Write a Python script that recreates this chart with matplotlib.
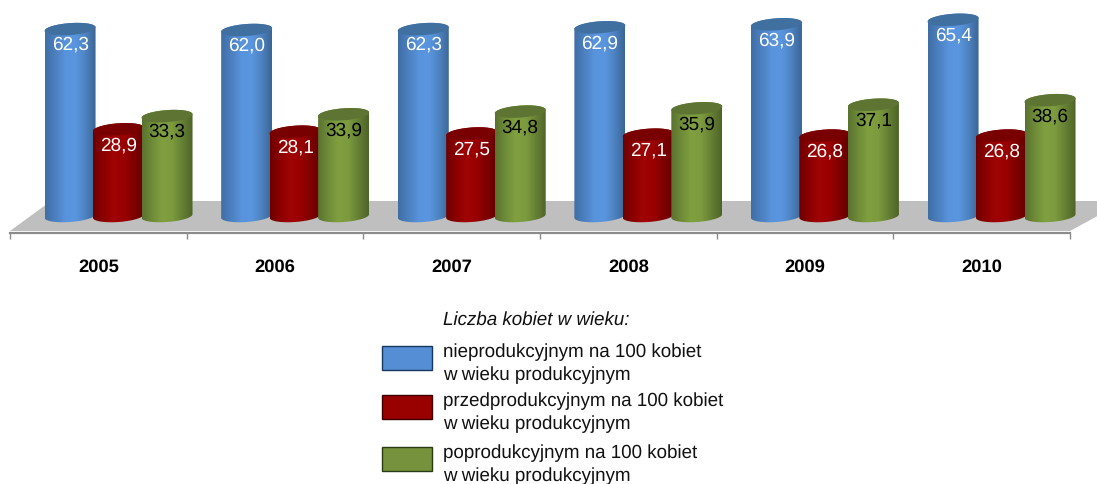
import numpy as np
import matplotlib
matplotlib.use("Agg")
import matplotlib.pyplot as plt
from matplotlib.colors import LinearSegmentedColormap
from matplotlib.patches import Polygon, Rectangle

plt.rcParams['font.family'] = ['Liberation Sans', 'DejaVu Sans']
plt.rcParams['text.hinting'] = 'none'

years = ['2005', '2006', '2007', '2008', '2009', '2010']
nieprod = [62.3, 62.0, 62.3, 62.9, 63.9, 65.4]
przedprod = [28.9, 28.1, 27.5, 27.1, 26.8, 26.8]
poprod = [33.3, 33.9, 34.8, 35.9, 37.1, 38.6]

W, H = 1097, 484
PX_PER_CAT = 176.6
PX_PER_VAL = 3.0
X0_PX = 98.5    # pixel of first category centre
Y0_PX = 216.0   # pixel of value 0

RX, RY, TILT = 25.5, 6.0, 0.07

fmt = lambda v: f"{v:.1f}".replace('.', ',')


def to_data(px, py):
    return (px - X0_PX) / PX_PER_CAT, (Y0_PX - py) / PX_PER_VAL


def cylinder(ax, xc, val, cols, top_col, z):
    t1 = np.linspace(np.pi, 2 * np.pi, 60)
    t2 = np.linspace(0, np.pi, 60)
    dx1, dx2 = RX * np.cos(t1), RX * np.cos(t2)
    low = np.c_[xc + dx1 / PX_PER_CAT, (RY * np.sin(t1) + TILT * dx1) / PX_PER_VAL]
    up = np.c_[xc + dx2 / PX_PER_CAT, val + (RY * np.sin(t2) + TILT * dx2) / PX_PER_VAL]
    body = Polygon(np.r_[low, up], fc='none', ec='none', zorder=z)
    ax.add_patch(body)
    cmap = LinearSegmentedColormap.from_list('c', cols)
    im = ax.imshow(np.linspace(0, 1, 128)[None, :], cmap=cmap, aspect='auto', zorder=z,
                   extent=[xc - RX / PX_PER_CAT, xc + RX / PX_PER_CAT, -3, val + 3],
                   interpolation='bilinear')
    im.set_clip_path(body)
    # top ellipse
    t = np.linspace(0, 2 * np.pi, 120)
    dx = RX * np.cos(t)
    cap = np.c_[xc + dx / PX_PER_CAT, val + (RY * np.sin(t) + TILT * dx) / PX_PER_VAL]
    ax.add_patch(Polygon(cap, fc=top_col, ec='none', zorder=z + 0.1))


fig = plt.figure(figsize=(W / 100, H / 100), dpi=100)
ax = fig.add_axes([0, 0, 1, 1])
ax.patch.set_visible(False)

# grey floor
floor = [to_data(10, 231), to_data(51, 201), to_data(1125, 201), to_data(1070, 231)]
ax.add_patch(Polygon(floor, fc='#bfbfbf', ec='none', zorder=1))

series = [
    (nieprod, -0.161, ['#3f6ea6', '#4c80bf', '#5893dc', '#5a96e0', '#4d82c0', '#3a6595'], '#40709f', 'white'),
    (przedprod, 0.113, ['#6e0000', '#8c0000', '#a00404', '#9a0000', '#7e0000', '#640000'], '#780000', 'white'),
    (poprod, 0.388, ['#5a722f', '#6f8c38', '#80a040', '#7c9a3e', '#647f33', '#4e6328'], '#5e7433', 'black'),
]

x = np.arange(len(years))
z = 2
for i in x:
    for vals, off, cols, top_col, tcol in series:
        cylinder(ax, i + off, vals[i], cols, top_col, z)
        ax.text(i + off, vals[i] - 16 / PX_PER_VAL, fmt(vals[i]), color=tcol, fontsize=13.7,
                ha='center', va='center', zorder=z + 0.2)
        z += 1

ax.set_xlim(-X0_PX / PX_PER_CAT, (W - X0_PX) / PX_PER_CAT)
ax.set_ylim((Y0_PX - H) / PX_PER_VAL, Y0_PX / PX_PER_VAL)

for s in ['top', 'left', 'right']:
    ax.spines[s].set_visible(False)
ax.spines['bottom'].set_position(('data', to_data(0, 232.5)[1]))
ax.spines['bottom'].set_bounds(-0.5, 5.5)
ax.spines['bottom'].set_color('#8c8c8c')
ax.spines['bottom'].set_linewidth(1.6)
ax.set_yticks([])
ax.set_xticks(np.arange(len(years) + 1) - 0.5, labels=[''] * (len(years) + 1))
ax.tick_params(axis='x', which='major', length=4, width=1, color='#8c8c8c')
ax.set_xticks(x, labels=years, minor=True)
ax.tick_params(axis='x', which='minor', length=0, pad=19, labelsize=13.2)
for lab in ax.get_xticklabels(minor=True):
    lab.set_fontweight('bold')

# legend, in pixel coordinates
leg = fig.add_axes([0, 0, 1, 1])
leg.set_xlim(0, W)
leg.set_ylim(H, 0)
leg.axis('off')

legend_labels = [
    ('nieprodukcyjnym na 100 kobiet', '#558ed5', '#17375e', 346),
    ('przedprodukcyjnym na 100 kobiet', '#990000', '#3c0000', 395),
    ('poprodukcyjnym na 100 kobiet', '#76923c', '#2a3a12', 447),
]
leg.text(443, 320, 'Liczba kobiet w wieku:', style='italic', fontsize=13.5, va='center', color='#111111')
for label, fc, ec, top in legend_labels:
    leg.add_patch(Rectangle((382, top), 50, 24, fc=fc, ec=ec, lw=1))
    leg.text(443, top + 6.5, label, fontsize=13.5, va='center', color='#111111')
    leg.text(443, top + 29.5, 'w wieku produkcyjnym', fontsize=13.5, va='center', color='#111111')

fig.savefig('out.png', dpi=100)
